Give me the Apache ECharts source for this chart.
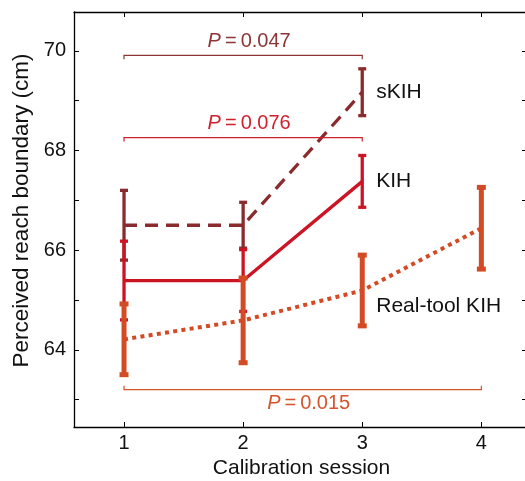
<!DOCTYPE html>
<html>
<head>
<meta charset="utf-8">
<script src="https://cdn.jsdelivr.net/npm/echarts@6/dist/echarts.min.js"></script>
<style>html,body{margin:0;padding:0;background:#fff;}#c{width:525px;height:481px;}</style>
</head>
<body>
<div id="c"></div>
<script>
// ---- data ----
var sessions = [1, 2, 3, 4];
var sKIHMean = [66.50, 66.50, 69.17];
var sKIHErr  = [0.70, 0.46, 0.47];
var kihMean  = [65.39, 65.39, 67.38];
var kihErr   = [0.79, 0.62, 0.52];
var realMean = [64.21, 64.59, 65.19, 66.44];
var realErr  = [0.71, 0.85, 0.71, 0.82];
var seriesNames = ['sKIH', 'KIH', 'Real-tool KIH'];
var labelAt = [69.17, 67.38, 64.87];
var yTicks = [63, 64, 65, 66, 67, 68, 69, 70];
var yLabels = [64, 66, 68, 70];
var bracketFrom = [1, 1, 1];
var bracketTo = [3, 3, 4];
var bracketAt = [69.91, 68.26, 63.20];
var pValues = ['0.047', '0.076', '0.015'];

var C_S = '#8a2b2e', C_K = '#cc1424', C_R = '#d24b25';
var P_COL = ['#8e3436', '#d0202e', '#d5532d'];
var FONT = '"Liberation Sans", Arial, Helvetica, sans-serif';

function pair(xs, ys) { return ys.map(function (v, i) { return [xs[i], v]; }); }
function triple(xs, ys, es) { return ys.map(function (v, i) { return [xs[i], v, es[i]]; }); }

function errRender(color, w, capW) {
  return function (params, api) {
    var x = api.value(0), m = api.value(1), e = api.value(2);
    var t = api.coord([x, m + e]), b = api.coord([x, m - e]);
    var st = { stroke: color, lineWidth: w };
    return { type: 'group', children: [
      { type: 'line', shape: { x1: t[0], y1: t[1], x2: b[0], y2: b[1] }, style: st },
      { type: 'line', shape: { x1: t[0] - capW / 2, y1: t[1], x2: t[0] + capW / 2, y2: t[1] }, style: st },
      { type: 'line', shape: { x1: b[0] - capW / 2, y1: b[1], x2: b[0] + capW / 2, y2: b[1] }, style: st }
    ]};
  };
}

var bracketData = bracketFrom.map(function (f, i) { return [f, bracketTo[i], bracketAt[i], i]; });

var option = {
  animation: false,
  backgroundColor: '#fff',
  grid: { left: 74, top: 12, bottom: 54, right: -4, containLabel: false, outerBoundsMode: 'none' },
  xAxis: [{
    type: 'value', min: 0.58, max: 4.4, position: 'bottom',
    name: 'Calibration session', nameLocation: 'middle', nameGap: 31,
    nameTextStyle: { fontFamily: FONT, fontSize: 21, color: '#111' },
    axisLine: { lineStyle: { color: '#000', width: 1.3 } },
    axisTick: { inside: true, length: 5, customValues: sessions, lineStyle: { color: '#000' } },
    axisLabel: { customValues: sessions, margin: 6, fontFamily: FONT, fontSize: 20, color: '#111' },
    splitLine: { show: false }
  }, {
    type: 'value', min: 0.58, max: 4.4, position: 'top',
    axisLine: { show: true, lineStyle: { color: '#000', width: 1.3 } },
    axisTick: { inside: true, length: 5, customValues: sessions, lineStyle: { color: '#000' } },
    axisLabel: { show: false }, splitLine: { show: false }
  }],
  yAxis: [{
    type: 'value', min: 62.45, max: 70.78, position: 'left',
    name: 'Perceived reach boundary (cm)', nameLocation: 'middle', nameGap: 40,
    nameTextStyle: { fontFamily: FONT, fontSize: 22.5, color: '#111', padding: [0, 0, 0, 18] },
    axisLine: { show: true, lineStyle: { color: '#000', width: 1.3 } },
    axisTick: { show: true, inside: true, length: 5, customValues: yTicks, lineStyle: { color: '#000' } },
    axisLabel: { customValues: yLabels, margin: 8, fontFamily: FONT, fontSize: 20, color: '#111' },
    splitLine: { show: false }
  }, {
    type: 'value', min: 62.45, max: 70.78, position: 'right',
    axisLine: { show: true, lineStyle: { color: '#000', width: 1.3 } },
    axisTick: { show: true, inside: true, length: 7, customValues: yTicks, lineStyle: { color: '#000' } },
    axisLabel: { show: false }, splitLine: { show: false }
  }],
  series: [
    { type: 'line', data: pair(sessions, sKIHMean), showSymbol: false, symbol: 'none',
      lineStyle: { color: C_S, width: 3.3, type: [13, 8] }, z: 2 },
    { type: 'line', data: pair(sessions, kihMean), showSymbol: false, symbol: 'none',
      lineStyle: { color: C_K, width: 3.3 }, z: 2 },
    { type: 'line', data: pair(sessions, realMean), showSymbol: false, symbol: 'none',
      lineStyle: { color: C_R, width: 4, type: [4, 4.3] }, z: 2 },
    { type: 'custom', data: triple(sessions, sKIHMean, sKIHErr), renderItem: errRender(C_S, 3.3, 8), z: 3 },
    { type: 'custom', data: triple(sessions, kihMean, kihErr), renderItem: errRender(C_K, 3.3, 8), z: 4 },
    { type: 'custom', data: triple(sessions, realMean, realErr), renderItem: errRender(C_R, 5, 9), z: 5 },
    { type: 'custom', data: bracketData, z: 6,
      renderItem: function (params, api) {
        var x1 = api.value(0), x2 = api.value(1), y = api.value(2), i = api.value(3);
        var a = api.coord([x1, y]), b = api.coord([x2, y]);
        var dir = i === 2 ? -1 : 1;
        var col = P_COL[i];
        var mid = (a[0] + b[0]) / 2 + 6;
        return { type: 'group', children: [
          { type: 'polyline', shape: { points: [[a[0], a[1] + dir * 4], [a[0], a[1]], [b[0], b[1]], [b[0], b[1] + dir * 4]] },
            style: { stroke: col, lineWidth: 1.2, fill: null } },
          { type: 'text', x: mid, y: a[1] - dir * 14,
            style: { text: '{i|P}{n|\u2009=\u2009' + pValues[i] + '}', align: 'center', verticalAlign: 'middle',
              rich: { i: { fontStyle: 'italic', fontFamily: FONT, fontSize: 20, fill: col, color: col },
                      n: { fontFamily: FONT, fontSize: 20, fill: col, color: col } } } }
        ]};
      } },
    { type: 'custom', data: labelAt.map(function (v, i) { return [3, v, i]; }), z: 6,
      renderItem: function (params, api) {
        var p = api.coord([api.value(0), api.value(1)]);
        return { type: 'text', x: p[0] + 14, y: p[1],
          style: { text: seriesNames[api.value(2)], align: 'left', verticalAlign: 'middle',
            fontFamily: FONT, fontSize: 21, fill: '#111' } };
      } }
  ]
};
echarts.init(document.getElementById('c'), null, { renderer: 'canvas' }).setOption(option);
</script>
</body>
</html>
